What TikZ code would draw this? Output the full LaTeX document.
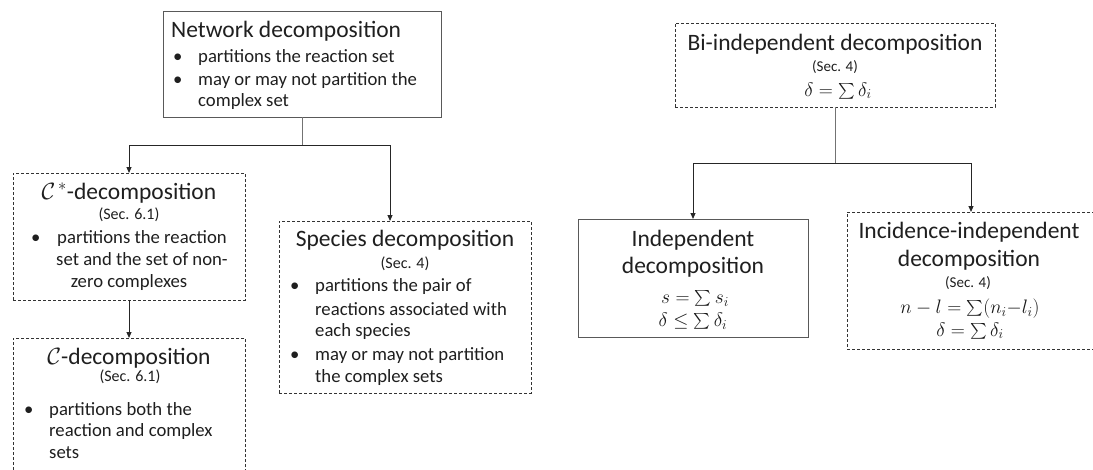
\RequirePackage{fix-cm}
\documentclass[tikz,border=0pt]{standalone}
\usepackage{exscale}
\usepackage{graphicx}
\usepackage{fontspec}
\setmainfont{Carlito}
\usetikzlibrary{arrows.meta}
\newcommand\mybul{\makebox[25pt][l]{\textbullet}}
\newcommand\ssum{\mathop{\vcenter{\hbox{\scalebox{0.76}{$\sum$}}}}\nolimits}
\begin{document}
\begin{tikzpicture}[x=1pt,y=-1pt,
  bx/.style={inner sep=0pt, outer sep=0pt, line width=1pt},
  solidbox/.style={bx, draw=black!65},
  dashbox/.style={bx, draw=black!80, dash pattern=on 3pt off 2pt},
  ttl/.style={font=\fontsize{23.5}{27.5}\selectfont, text=black!88, inner sep=0pt, anchor=base},
  bdy/.style={font=\fontsize{18.7}{22}\selectfont, text=black!88, inner sep=0pt, anchor=base west},
  secl/.style={font=\fontsize{16}{19}\selectfont, text=black!88, inner sep=0pt, anchor=base},
  secs/.style={font=\fontsize{15}{18}\selectfont, text=black!88, inner sep=0pt, anchor=base},
  mth/.style={font=\fontsize{19.5}{23}\selectfont, text=black!90, inner sep=0pt, anchor=base},
  ln/.style={draw=black!55, line width=1pt},
  arr/.style={draw=black!85, line width=1pt, -{Triangle[length=6pt,width=5pt]}}
]
\useasboundingbox (0,0) rectangle (1093,469);
\fill[white] (0,0) rectangle (1093,469);

% boxes
\node[solidbox, minimum width=278pt, minimum height=106pt] (netbox) at (302,64) {};
\node[dashbox, minimum width=232pt, minimum height=127pt] (cstarbox) at (129,236.5) {};
\node[dashbox, minimum width=232pt, minimum height=182pt] (cbox) at (129,429) {};
\node[dashbox, minimum width=252pt, minimum height=172pt] (specbox) at (405,307) {};
\node[dashbox, minimum width=320pt, minimum height=84pt] (bibox) at (835,65) {};
\node[solidbox, minimum width=230pt, minimum height=118pt] (indbox) at (693,278) {};
\node[dashbox, minimum width=248pt, minimum height=137pt] (incbox) at (971,280.5) {};

% Network decomposition
\node[ttl, anchor=base west] (n1) at (171,37.7) {Network decomposition};
\node[bdy] (n2) at (173,62.3) {\mybul partitions the reaction set};
\node[bdy] (n3) at (173,85.7) {\mybul may or may not partition the};
\node[bdy] (n4) at (198,106.7) {complex set};

% C*-decomposition
\node[ttl] (c1) at (129,199.3) {$\mathcal{C}^{\,*}$-decomposition};
\node[secl] (c2) at (129,219) {(Sec. 6.1)};
\node[bdy] (c3b) at (31,243) {\textbullet};
\node[bdy, anchor=base] (c3) at (142,243) {partitions the reaction};
\node[bdy, anchor=base] (c4) at (142,265) {set and the set of non-};
\node[bdy, anchor=base] (c5) at (129,287) {zero complexes};

% C-decomposition
\node[ttl] (d1) at (129,364) {$\mathcal{C}$-decomposition};
\node[secl] (d2) at (130,381.7) {(Sec. 6.1)};
\node[bdy] (d3) at (24,415) {\mybul partitions both the};
\node[bdy] (d4) at (49,436.7) {reaction and complex};
\node[bdy] (d5) at (49,458) {sets};

% Species decomposition
\node[ttl] (s1) at (405,246.7) {Species decomposition};
\node[secl] (s2) at (405,268) {(Sec. 4)};
\node[bdy] (s3) at (290,291.7) {\mybul partitions the pair of};
\node[bdy] (s4) at (315,315) {reactions associated with};
\node[bdy] (s5) at (315,336.7) {each species};
\node[bdy] (s6) at (290,360) {\mybul may or may not partition};
\node[bdy] (s7) at (315,382) {the complex sets};

% Bi-independent decomposition
\node[ttl] (b1) at (835,50) {Bi-independent decomposition};
\node[secs] (b2) at (835,71.5) {(Sec. 4)};
\node[mth] (b3) at (838,96) {$\delta=\ssum\delta_i$};

% Independent decomposition
\node[ttl, align=center] (i1) at (693,273.5) {Independent\\decomposition};
\node[mth] (i3) at (695,303.5) {$s=\ssum s_i$};
\node[mth] (i4) at (693,326.5) {$\delta\le\ssum\delta_i$};

% Incidence-independent decomposition
\node[ttl, align=center] (k1) at (969,266) {Incidence-independent\\decomposition};
\node[secs] (k3) at (968,287.5) {(Sec. 4)};
\node[mth] (k4) at (970,313.5) {$n-l=\ssum(n_i{-}l_i)$};
\node[mth] (k5) at (970,336) {$\delta=\ssum\delta_i$};

% connectors
\coordinate (j1) at (302,145);
\coordinate (spin) at (390,221);
\draw[ln] (netbox.south) -- (j1);
\draw[arr] (j1) -| (cstarbox.north);
\draw[arr] (j1) -| (spin);
\draw[arr] (cstarbox.south) -- (cbox.north);

\coordinate (j2) at (835,163);
\draw[ln] (bibox.south) -- (j2);
\draw[arr] (j2) -| (indbox.north);
\draw[arr] (j2) -| (incbox.north);
\end{tikzpicture}
\end{document}
